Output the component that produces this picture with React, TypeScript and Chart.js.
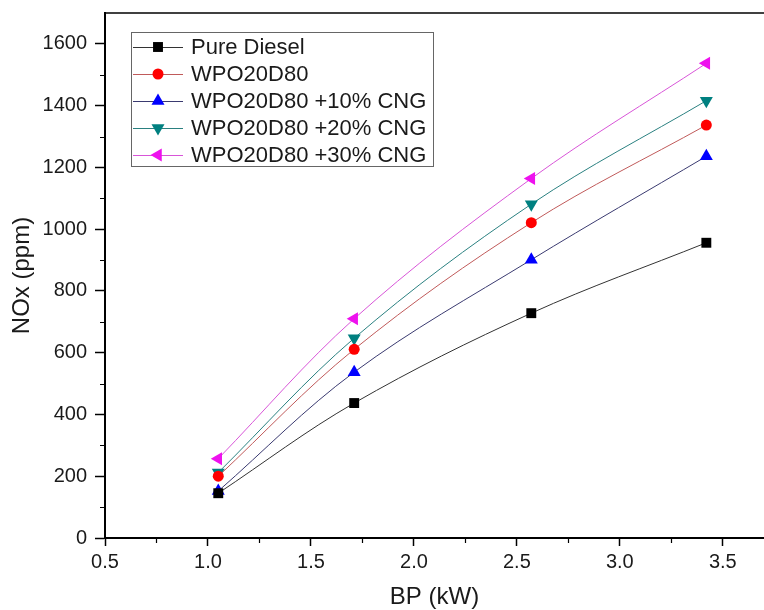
import React, { useEffect, useRef } from "react";
import { Chart, registerables } from "chart.js";

Chart.register(...registerables);

// ---- data ----
const bpValues = [1.05, 1.71, 2.57, 3.42];
const seriesNames = [
  "Pure Diesel",
  "WPO20D80",
  "WPO20D80 +10% CNG",
  "WPO20D80 +20% CNG",
  "WPO20D80 +30% CNG",
];
const pureDiesel = [145, 437, 728, 956];
const wpo20d80 = [200, 611, 1021, 1337];
const cng10 = [152, 537, 901, 1236];
const cng20 = [212, 647, 1081, 1416];
const cng30 = [257, 710, 1164, 1537];
const xTickValues = [0.5, 1.0, 1.5, 2.0, 2.5, 3.0, 3.5];
const yTickValues = [0, 200, 400, 600, 800, 1000, 1200, 1400, 1600];
const xMinorTicks = [0.75, 1.25, 1.75, 2.25, 2.75, 3.25];
const yMinorTicks = [100, 300, 500, 700, 900, 1100, 1300, 1500];

// ---- styles ----
const markerColors = ["#000000", "#ff0000", "#0000ff", "#008080", "#ee11ee"];
const lineColors = ["#333333", "#c05a5a", "#3a3a70", "#2a8080", "#d855d8"];
const markerShapes = ["rect", "circle", "triangle", "triangle", "triangle"];
const markerRotations = [0, 0, 0, 180, -90];
const markerRadii = [7, 5.5, 7.5, 7.5, 7.5];

const FONT = "'Liberation Sans', Arial, sans-serif";

function drawMarker(ctx: CanvasRenderingContext2D, shape: string, x: number, y: number, r: number, rotDeg: number, color: string) {
  ctx.save();
  ctx.fillStyle = color;
  ctx.translate(x, y);
  ctx.rotate((rotDeg * Math.PI) / 180);
  ctx.beginPath();
  if (shape === "circle") {
    ctx.arc(0, 0, r, 0, Math.PI * 2);
  } else if (shape === "rect") {
    const s = Math.SQRT1_2 * r;
    ctx.rect(-s, -s, 2 * s, 2 * s);
  } else {
    for (let i = 0; i < 3; i++) {
      const a = (i * 2 * Math.PI) / 3;
      const px = Math.sin(a) * r;
      const py = -Math.cos(a) * r;
      if (i === 0) ctx.moveTo(px, py);
      else ctx.lineTo(px, py);
    }
    ctx.closePath();
  }
  ctx.fill();
  ctx.restore();
}

const framePlugin = {
  id: "frameAndMinor",
  afterDraw(chart: any) {
    const ctx = chart.ctx as CanvasRenderingContext2D;
    const area = chart.chartArea;
    const xs = chart.scales.x;
    const ys = chart.scales.y;
    ctx.save();
    // top frame
    ctx.strokeStyle = "#000";
    ctx.lineWidth = 1.5;
    ctx.beginPath();
    ctx.moveTo(area.left - 1, area.top);
    ctx.lineTo(area.right, area.top);
    ctx.stroke();
    // minor ticks
    ctx.lineWidth = 1.2;
    ctx.beginPath();
    for (const v of xMinorTicks) {
      const px = Math.round(xs.getPixelForValue(v)) + 0.5;
      ctx.moveTo(px, area.bottom);
      ctx.lineTo(px, area.bottom + 5);
    }
    for (const v of yMinorTicks) {
      const py = Math.round(ys.getPixelForValue(v)) + 0.5;
      ctx.moveTo(area.left, py);
      ctx.lineTo(area.left - 5, py);
    }
    ctx.stroke();

    // legend
    const left = area.left + 26;
    const top = area.top + 19;
    const w = 302;
    const h = 134;
    ctx.fillStyle = "#fff";
    ctx.fillRect(left, top, w, h);
    ctx.strokeStyle = "#666";
    ctx.lineWidth = 1;
    ctx.strokeRect(left + 0.5, top + 0.5, w, h);
    ctx.font = `22px ${FONT}`;
    ctx.textBaseline = "middle";
    ctx.textAlign = "left";
    seriesNames.forEach((name, i) => {
      const cy = top + 15 + i * 27;
      ctx.strokeStyle = lineColors[i];
      ctx.lineWidth = 1;
      ctx.beginPath();
      ctx.moveTo(left + 2, cy + 0.5);
      ctx.lineTo(left + 52, cy + 0.5);
      ctx.stroke();
      drawMarker(ctx, markerShapes[i], left + 27, cy, markerRadii[i], markerRotations[i], markerColors[i]);
      ctx.fillStyle = "#1a1a1a";
      ctx.fillText(name, left + 60, cy + 1);
    });
    ctx.restore();
  },
};

export default function App() {
  const canvasRef = useRef<HTMLCanvasElement | null>(null);

  useEffect(() => {
    document.body.style.margin = "0";
    const canvas = canvasRef.current;
    if (!canvas) return;
    const seriesValues = [pureDiesel, wpo20d80, cng10, cng20, cng30];
    const datasets = seriesValues.map((vals, i) => ({
      label: seriesNames[i],
      data: vals.map((v, j) => ({ x: bpValues[j], y: v })),
      borderColor: lineColors[i],
      backgroundColor: markerColors[i],
      borderWidth: 1,
      pointStyle: markerShapes[i] as any,
      pointRotation: markerRotations[i],
      pointRadius: markerRadii[i],
      pointBorderWidth: 0,
      pointBackgroundColor: markerColors[i],
      pointBorderColor: markerColors[i],
      tension: 0.35,
      fill: false,
    }));

    const chart = new Chart(canvas, {
      type: "line",
      data: { datasets },
      options: {
        responsive: false,
        animation: false,
        layout: { autoPadding: false, padding: { top: 13, left: 0, right: 0, bottom: 0 } },
        plugins: {
          legend: { display: false },
          tooltip: { enabled: false },
        },
        scales: {
          x: {
            type: "linear",
            min: 0.5,
            max: 3.7,
            afterBuildTicks: (scale: any) => {
              scale.ticks = xTickValues.map((v) => ({ value: v }));
            },
            afterFit: (scale: any) => {
              scale.height = 72;
              scale.paddingLeft = 0;
              scale.paddingRight = 0;
              scale.paddingTop = 0;
              scale.paddingBottom = 0;
            },
            grid: {
              drawOnChartArea: false,
              drawTicks: true,
              tickLength: 8,
              tickColor: "#000",
              tickWidth: 1.5,
              color: "#000",
            },
            border: { display: true, color: "#000", width: 2 },
            ticks: {
              color: "#1a1a1a",
              font: { family: FONT, size: 20 },
              padding: 4,
              maxRotation: 0,
              callback: (v: any) => Number(v).toFixed(1),
            },
            title: {
              display: true,
              text: "BP (kW)",
              color: "#1a1a1a",
              font: { family: FONT, size: 24 },
              padding: { top: 0, bottom: -2 },
            },
          },
          y: {
            type: "linear",
            min: 0,
            max: 1700,
            afterBuildTicks: (scale: any) => {
              scale.ticks = yTickValues.map((v) => ({ value: v }));
            },
            afterFit: (scale: any) => {
              scale.width = 105;
              scale.paddingLeft = 0;
              scale.paddingRight = 0;
              scale.paddingTop = 0;
              scale.paddingBottom = 0;
            },
            grid: {
              drawOnChartArea: false,
              drawTicks: true,
              tickLength: 10,
              tickColor: "#000",
              tickWidth: 1.5,
              color: "#000",
            },
            border: { display: true, color: "#000", width: 2 },
            ticks: {
              color: "#1a1a1a",
              font: { family: FONT, size: 20 },
              padding: 8,
              callback: (v: any) => String(v),
            },
            title: {
              display: true,
              text: "NOx (ppm)",
              color: "#1a1a1a",
              font: { family: FONT, size: 24 },
              padding: { top: 8, bottom: 0 },
            },
          },
        },
      },
      plugins: [framePlugin],
    });
    return () => chart.destroy();
  }, []);

  return (
    <div style={{ width: 764, height: 610 }}>
      <canvas ref={canvasRef} width={764} height={610} style={{ display: "block" }} />
    </div>
  );
}
